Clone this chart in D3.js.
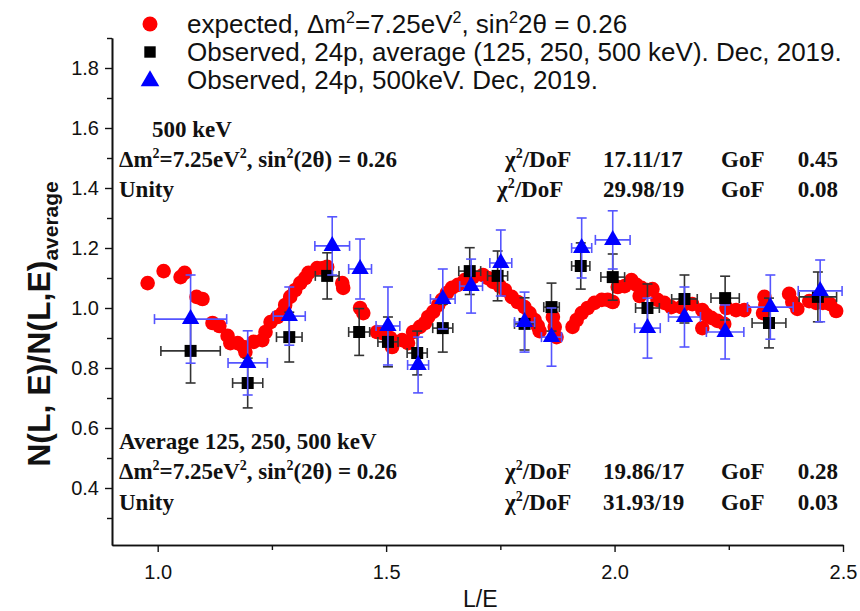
<!DOCTYPE html>
<html>
<head>
<meta charset="utf-8">
<script src="https://cdn.jsdelivr.net/npm/d3@7"></script>
<style>
  body { margin: 0; background: #fff; }
  svg text { fill: #111; }
</style>
</head>
<body>
<svg id="chart"></svg>
<script>
// expected curve, dm2 = 7.25 eV2, sin2(2theta) = 0.26
var expectedLE = [0.978, 1.013, 1.050, 1.059, 1.085, 1.098, 1.120, 1.135, 1.153, 1.159, 1.175, 1.188, 1.192,
  1.210, 1.229, 1.236, 1.247, 1.262, 1.273, 1.279, 1.290, 1.301, 1.312, 1.323, 1.330, 1.349, 1.362, 1.371,
  1.404, 1.406, 1.443, 1.450, 1.480, 1.491, 1.509, 1.513, 1.535, 1.548, 1.559, 1.574, 1.585, 1.592, 1.603,
  1.614, 1.622, 1.633, 1.644, 1.657, 1.672, 1.690, 1.712, 1.723, 1.734, 1.749, 1.760, 1.775, 1.788, 1.803,
  1.814, 1.825, 1.832, 1.836, 1.865, 1.869, 1.873, 1.908, 1.917, 1.928, 1.941, 1.956, 1.972, 1.985, 1.996,
  2.007, 2.022, 2.037, 2.048, 2.059, 2.072, 2.083, 2.055, 2.094, 2.109, 2.124, 2.146, 2.170, 2.192, 2.201,
  2.212, 2.225, 2.240, 2.192, 2.245, 2.266, 2.284, 2.328, 2.330, 2.325, 2.382, 2.389, 2.400, 2.426, 2.441,
  2.456, 2.472, 2.485];
var expectedRatio = [1.083, 1.123, 1.103, 1.117, 1.037, 1.030, 0.950, 0.940, 0.907, 0.883, 0.883, 0.870, 0.853,
  0.887, 0.893, 0.920, 0.953, 0.970, 0.983, 1.010, 1.037, 1.060, 1.083, 1.100, 1.117, 1.133, 1.133, 1.137,
  1.083, 1.067, 1.000, 0.983, 0.920, 0.917, 0.900, 0.870, 0.893, 0.883, 0.920, 0.937, 0.950, 0.970, 0.987,
  1.010, 1.027, 1.050, 1.067, 1.077, 1.093, 1.103, 1.110, 1.100, 1.087, 1.073, 1.060, 1.037, 1.020, 1.003,
  0.983, 0.960, 0.940, 0.923, 0.970, 0.937, 0.903, 0.937, 0.960, 0.983, 1.000, 1.017, 1.027, 1.027, 1.020,
  1.070, 1.073, 1.093, 1.077, 1.067, 1.060, 1.063, 1.040, 1.027, 1.017, 1.003, 1.003, 1.013, 0.993, 0.977,
  0.967, 0.957, 0.947, 0.933, 1.000, 0.993, 0.993, 1.037, 1.010, 0.983, 1.047, 1.020, 0.997, 1.023, 1.017,
  1.017, 1.013, 0.990];

// observed, 24p, average of 125, 250, 500 keV
var avgLE = [1.072, 1.197, 1.288, 1.371, 1.441, 1.504, 1.568, 1.624, 1.683, 1.744, 1.803, 1.862, 1.926, 1.996,
  2.072, 2.153, 2.242, 2.338, 2.445];
var avgRatio = [0.857, 0.750, 0.903, 1.107, 0.920, 0.887, 0.850, 0.933, 1.123, 1.107, 0.947, 1.003, 1.140, 1.103,
  1.000, 1.030, 1.033, 0.950, 1.037];
var avgErrLE = [0.065, 0.033, 0.028, 0.026, 0.023, 0.022, 0.022, 0.022, 0.024, 0.022, 0.022, 0.017, 0.020, 0.026,
  0.026, 0.028, 0.031, 0.037, 0.041];
var avgErrRatio = [0.107, 0.083, 0.083, 0.077, 0.078, 0.083, 0.073, 0.080, 0.078, 0.083, 0.087, 0.080, 0.077, 0.077,
  0.080, 0.080, 0.073, 0.083, 0.083];

// observed, 24p, 500 keV
var e500LE = [1.072, 1.197, 1.288, 1.382, 1.443, 1.504, 1.570, 1.624, 1.686, 1.751, 1.803, 1.862, 1.928, 1.996,
  2.072, 2.153, 2.242, 2.341, 2.450];
var e500Ratio = [0.963, 0.817, 0.973, 1.207, 1.130, 0.940, 0.810, 1.030, 1.073, 1.150, 0.953, 0.903, 1.200, 1.227,
  0.933, 0.970, 0.920, 1.003, 1.057];
var e500ErrLE = [0.079, 0.043, 0.035, 0.038, 0.025, 0.026, 0.023, 0.027, 0.025, 0.024, 0.022, 0.022, 0.022, 0.038,
  0.028, 0.035, 0.041, 0.050, 0.048];
var e500ErrRatio = [0.147, 0.107, 0.097, 0.097, 0.100, 0.130, 0.093, 0.100, 0.090, 0.110, 0.100, 0.097, 0.100, 0.097,
  0.100, 0.100, 0.090, 0.107, 0.103];

var xTicks = [1.0, 1.5, 2.0, 2.5];
var xMinorTicks = [1.25, 1.75, 2.25];
var yTicks = [0.4, 0.6, 0.8, 1.0, 1.2, 1.4, 1.6, 1.8];
var yMinorTicks = [0.3, 0.5, 0.7, 0.9, 1.1, 1.3, 1.5, 1.7, 1.9];

var legendLabels = ["expected", "average", "e500"];

var width = 860, height = 611;
var margin = { top: 38, right: 17, bottom: 66, left: 112 };
var w = width - margin.left - margin.right,
  h = height - margin.top - margin.bottom;

var x = d3.scaleLinear().domain([0.9, 2.5]).range([0, w]);
var y = d3.scaleLinear().domain([0.21, 1.9]).range([h, 0]);

var svg = d3.select("#chart").attr("width", width).attr("height", height);
var g = svg.append("g").attr("transform", "translate(" + margin.left + "," + margin.top + ")");

// axes
var xAxis = d3.axisBottom(x).tickValues(xTicks).tickFormat(d3.format(".1f")).tickSizeInner(7).tickSizeOuter(0).tickPadding(13);
var xMinor = d3.axisBottom(x).tickValues(xMinorTicks).tickFormat("").tickSizeInner(5).tickSizeOuter(0);
var yAxis = d3.axisLeft(y).tickValues(yTicks).tickFormat(d3.format(".1f")).tickSizeInner(7).tickSizeOuter(0).tickPadding(6);
var yMinor = d3.axisLeft(y).tickValues(yMinorTicks).tickFormat("").tickSizeInner(5).tickSizeOuter(0);

function styleAxis(sel) {
  sel.selectAll("path").attr("stroke", "#111").attr("stroke-width", 1.6);
  sel.selectAll("line").attr("stroke", "#111").attr("stroke-width", 1.4);
  sel.selectAll("text").attr("font-family", "Liberation Sans, Arial, sans-serif").attr("font-size", 20).attr("fill", "#222");
}

g.append("g").attr("transform", "translate(0," + h + ")").call(xMinor).call(styleAxis);
g.append("g").attr("transform", "translate(0," + h + ")").call(xAxis).call(styleAxis);
g.append("g").call(yMinor).call(styleAxis);
g.append("g").call(yAxis).call(styleAxis);

// axis titles
g.append("text")
  .attr("x", x(1.75) - 20)
  .attr("y", h + 62)
  .attr("text-anchor", "middle")
  .attr("font-family", "Liberation Sans, Arial, sans-serif")
  .attr("font-size", 23)
  .text("L/E");

var yTitle = svg.append("text")
  .attr("transform", "translate(50," + 324 + ") rotate(-90)")
  .attr("text-anchor", "middle")
  .attr("font-family", "Liberation Sans, Arial, sans-serif")
  .attr("font-weight", "bold")
  .attr("font-size", 32);
yTitle.append("tspan").text("N(L, E)/N(L,E)");
yTitle.append("tspan").attr("font-size", 21).attr("dy", 8).text("average");

// expected points
var expected = expectedLE.map(function (d, i) { return { x: d, y: expectedRatio[i] }; });
g.append("g").selectAll("circle")
  .data(expected)
  .enter()
  .append("circle")
  .attr("cx", function (d) { return x(d.x); })
  .attr("cy", function (d) { return y(d.y); })
  .attr("r", 7.3)
  .attr("fill", "#ff0000");

// error bars + markers for one observed series
function drawSeries(les, vals, errLE, errV, color, barColor, symbol, size) {
  var data = les.map(function (d, i) { return { x: d, y: vals[i], ex: errLE[i], ey: errV[i] }; });
  var cap = 5;
  var bars = g.append("g").attr("stroke", barColor).attr("stroke-width", 1.6);
  data.forEach(function (d) {
    var cx = x(d.x), cy = y(d.y);
    var x0 = x(d.x - d.ex), x1 = x(d.x + d.ex), y0 = y(d.y + d.ey), y1 = y(d.y - d.ey);
    bars.append("line").attr("x1", x0).attr("x2", x1).attr("y1", cy).attr("y2", cy);
    bars.append("line").attr("x1", cx).attr("x2", cx).attr("y1", y0).attr("y2", y1);
    bars.append("line").attr("x1", x0).attr("x2", x0).attr("y1", cy - cap).attr("y2", cy + cap);
    bars.append("line").attr("x1", x1).attr("x2", x1).attr("y1", cy - cap).attr("y2", cy + cap);
    bars.append("line").attr("x1", cx - cap).attr("x2", cx + cap).attr("y1", y0).attr("y2", y0);
    bars.append("line").attr("x1", cx - cap).attr("x2", cx + cap).attr("y1", y1).attr("y2", y1);
  });
  g.append("g").selectAll("path")
    .data(data)
    .enter()
    .append("path")
    .attr("d", d3.symbol().type(symbol).size(size))
    .attr("transform", function (d) { return "translate(" + x(d.x) + "," + y(d.y) + ")"; })
    .attr("fill", color);
}

drawSeries(avgLE, avgRatio, avgErrLE, avgErrRatio, "#000", "#333", d3.symbolSquare, 144);
drawSeries(e500LE, e500Ratio, e500ErrLE, e500ErrRatio, "#0000ff", "#5555ff", d3.symbolTriangle, 130);

// legend
var legend = svg.append("g")
  .attr("font-family", "Liberation Sans, Arial, sans-serif")
  .attr("font-size", 26);
var legendRows = [
  { key: legendLabels[0], y: 24 },
  { key: legendLabels[1], y: 52 },
  { key: legendLabels[2], y: 80 }
];
legend.append("circle").attr("cx", 150).attr("cy", legendRows[0].y).attr("r", 7.5).attr("fill", "#ff0000");
legend.append("path").attr("d", d3.symbol().type(d3.symbolSquare).size(130)).attr("transform", "translate(150," + legendRows[1].y + ")").attr("fill", "#000");
legend.append("path").attr("d", d3.symbol().type(d3.symbolTriangle).size(150)).attr("transform", "translate(150," + (legendRows[2].y + 1) + ")").attr("fill", "#0000ff");

var t1 = legend.append("text").attr("x", 187).attr("y", legendRows[0].y + 9);
t1.append("tspan").text("expected, \u0394m");
t1.append("tspan").attr("font-size", 16).attr("dy", -10).text("2");
t1.append("tspan").attr("dy", 10).text("=7.25eV");
t1.append("tspan").attr("font-size", 16).attr("dy", -10).text("2");
t1.append("tspan").attr("dy", 10).text(", sin");
t1.append("tspan").attr("font-size", 16).attr("dy", -10).text("2");
t1.append("tspan").attr("dy", 10).text("2\u03b8 = 0.26");
legend.append("text").attr("x", 187).attr("y", legendRows[1].y + 9)
  .text("Observed, 24p, average (125, 250, 500 keV). Dec, 2019.");
legend.append("text").attr("x", 187).attr("y", legendRows[2].y + 9)
  .text("Observed, 24p, 500keV. Dec, 2019.");

// fit annotations
var notes = svg.append("g")
  .attr("font-family", "Liberation Serif, Times New Roman, serif")
  .attr("font-weight", "bold")
  .attr("font-size", 23);

function dmLine(yy) {
  var t = notes.append("text").attr("x", 119).attr("y", yy);
  t.append("tspan").text("\u0394m");
  t.append("tspan").attr("font-size", 14).attr("dy", -9).text("2");
  t.append("tspan").attr("dy", 9).text("=7.25eV");
  t.append("tspan").attr("font-size", 14).attr("dy", -9).text("2");
  t.append("tspan").attr("dy", 9).text(", sin");
  t.append("tspan").attr("font-size", 14).attr("dy", -9).text("2");
  t.append("tspan").attr("dy", 9).text("(2\u03b8) = 0.26");
}
function chiLine(yy, chi, gof, cx) {
  var t = notes.append("text").attr("x", cx).attr("y", yy);
  t.append("tspan").text("\u03c7");
  t.append("tspan").attr("font-size", 14).attr("dy", -9).text("2");
  t.append("tspan").attr("dy", 9).text("/DoF");
  notes.append("text").attr("x", 603).attr("y", yy).text(chi);
  notes.append("text").attr("x", 721).attr("y", yy).text("GoF");
  notes.append("text").attr("x", 838).attr("y", yy).attr("text-anchor", "end").text(gof);
}

notes.append("text").attr("x", 152).attr("y", 137).text("500 keV");
dmLine(167);
chiLine(167, "17.11/17", "0.45", 505);
notes.append("text").attr("x", 119).attr("y", 197).text("Unity");
chiLine(197, "29.98/19", "0.08", 497);

notes.append("text").attr("x", 119).attr("y", 449).text("Average 125, 250, 500 keV");
dmLine(479);
chiLine(479, "19.86/17", "0.28", 505);
notes.append("text").attr("x", 119).attr("y", 510).text("Unity");
chiLine(510, "31.93/19", "0.03", 505);
</script>
</body>
</html>
